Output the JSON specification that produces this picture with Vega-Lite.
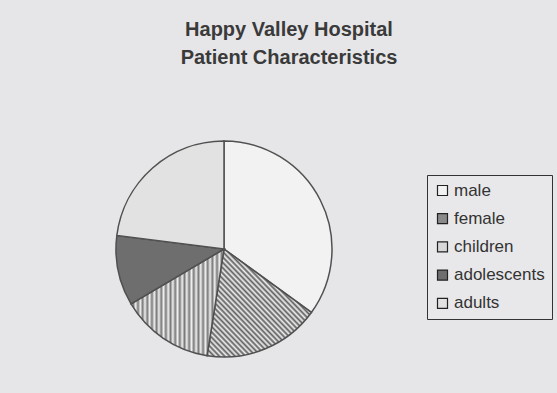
{
  "$schema": "https://vega.github.io/schema/vega-lite/v6.json",
  "autosize": {"type": "none"},
  "width": 216,
  "height": 216,
  "padding": {"left": 116, "top": 141, "right": 225, "bottom": 36},
  "background": "#e6e6e8",
  "title": {
    "text": ["Happy Valley Hospital", "Patient Characteristics"],
    "font": "Liberation Sans",
    "fontSize": 20,
    "fontWeight": "bold",
    "color": "#3a3a3a",
    "lineHeight": 28,
    "anchor": "middle",
    "frame": "group",
    "dx": 65,
    "offset": 70
  },
  "data": {
    "values": [
      {"category": "male", "value": 35, "order": 1},
      {"category": "female", "value": 17.5, "order": 2},
      {"category": "children", "value": 14, "order": 3},
      {"category": "adolescents", "value": 10.5, "order": 4},
      {"category": "adults", "value": 23, "order": 5}
    ]
  },
  "mark": {"type": "arc", "stroke": "#505050", "strokeWidth": 1.5},
  "encoding": {
    "theta": {"field": "value", "type": "quantitative", "stack": true},
    "order": {"field": "order", "type": "quantitative"},
    "fill": {
      "field": "category",
      "type": "nominal",
      "scale": {
        "domain": ["male", "female", "children", "adolescents", "adults"],
        "range": ["#f2f2f2", "#8a8a8a", "#d8d8d8", "#6e6e6e", "#e2e2e2"]
      },
      "legend": {
        "orient": "none",
        "legendX": 311,
        "legendY": 34,
        "title": null,
        "strokeColor": "#333333",
        "fillColor": "#e8e8ea",
        "padding": 7,
        "labelFontSize": 17,
        "labelFont": "Liberation Sans",
        "labelColor": "#333333",
        "symbolType": "square",
        "symbolSize": 100,
        "symbolStrokeColor": "#222222",
        "symbolStrokeWidth": 1.2,
        "rowPadding": 10.2,
        "labelOffset": 3
      },
      "condition": [
        {
          "test": "datum.category === 'female'",
          "value": {
            "gradient": "linear", "x1": 0, "y1": 1, "x2": 1, "y2": 0,
            "stops": [
              {"offset": 0, "color": "#f0f0f0"}, {"offset": 0.0125, "color": "#5e5e5e"},
              {"offset": 0.025, "color": "#f0f0f0"}, {"offset": 0.0375, "color": "#5e5e5e"},
              {"offset": 0.05, "color": "#f0f0f0"}, {"offset": 0.0625, "color": "#5e5e5e"},
              {"offset": 0.075, "color": "#f0f0f0"}, {"offset": 0.0875, "color": "#5e5e5e"},
              {"offset": 0.1, "color": "#f0f0f0"}, {"offset": 0.1125, "color": "#5e5e5e"},
              {"offset": 0.125, "color": "#f0f0f0"}, {"offset": 0.1375, "color": "#5e5e5e"},
              {"offset": 0.15, "color": "#f0f0f0"}, {"offset": 0.1625, "color": "#5e5e5e"},
              {"offset": 0.175, "color": "#f0f0f0"}, {"offset": 0.1875, "color": "#5e5e5e"},
              {"offset": 0.2, "color": "#f0f0f0"}, {"offset": 0.2125, "color": "#5e5e5e"},
              {"offset": 0.225, "color": "#f0f0f0"}, {"offset": 0.2375, "color": "#5e5e5e"},
              {"offset": 0.25, "color": "#f0f0f0"}, {"offset": 0.2625, "color": "#5e5e5e"},
              {"offset": 0.275, "color": "#f0f0f0"}, {"offset": 0.2875, "color": "#5e5e5e"},
              {"offset": 0.3, "color": "#f0f0f0"}, {"offset": 0.3125, "color": "#5e5e5e"},
              {"offset": 0.325, "color": "#f0f0f0"}, {"offset": 0.3375, "color": "#5e5e5e"},
              {"offset": 0.35, "color": "#f0f0f0"}, {"offset": 0.3625, "color": "#5e5e5e"},
              {"offset": 0.375, "color": "#f0f0f0"}, {"offset": 0.3875, "color": "#5e5e5e"},
              {"offset": 0.4, "color": "#f0f0f0"}, {"offset": 0.4125, "color": "#5e5e5e"},
              {"offset": 0.425, "color": "#f0f0f0"}, {"offset": 0.4375, "color": "#5e5e5e"},
              {"offset": 0.45, "color": "#f0f0f0"}, {"offset": 0.4625, "color": "#5e5e5e"},
              {"offset": 0.475, "color": "#f0f0f0"}, {"offset": 0.4875, "color": "#5e5e5e"},
              {"offset": 0.5, "color": "#f0f0f0"}, {"offset": 0.5125, "color": "#5e5e5e"},
              {"offset": 0.525, "color": "#f0f0f0"}, {"offset": 0.5375, "color": "#5e5e5e"},
              {"offset": 0.55, "color": "#f0f0f0"}, {"offset": 0.5625, "color": "#5e5e5e"},
              {"offset": 0.575, "color": "#f0f0f0"}, {"offset": 0.5875, "color": "#5e5e5e"},
              {"offset": 0.6, "color": "#f0f0f0"}, {"offset": 0.6125, "color": "#5e5e5e"},
              {"offset": 0.625, "color": "#f0f0f0"}, {"offset": 0.6375, "color": "#5e5e5e"},
              {"offset": 0.65, "color": "#f0f0f0"}, {"offset": 0.6625, "color": "#5e5e5e"},
              {"offset": 0.675, "color": "#f0f0f0"}, {"offset": 0.6875, "color": "#5e5e5e"},
              {"offset": 0.7, "color": "#f0f0f0"}, {"offset": 0.7125, "color": "#5e5e5e"},
              {"offset": 0.725, "color": "#f0f0f0"}, {"offset": 0.7375, "color": "#5e5e5e"},
              {"offset": 0.75, "color": "#f0f0f0"}, {"offset": 0.7625, "color": "#5e5e5e"},
              {"offset": 0.775, "color": "#f0f0f0"}, {"offset": 0.7875, "color": "#5e5e5e"},
              {"offset": 0.8, "color": "#f0f0f0"}, {"offset": 0.8125, "color": "#5e5e5e"},
              {"offset": 0.825, "color": "#f0f0f0"}, {"offset": 0.8375, "color": "#5e5e5e"},
              {"offset": 0.85, "color": "#f0f0f0"}, {"offset": 0.8625, "color": "#5e5e5e"},
              {"offset": 0.875, "color": "#f0f0f0"}, {"offset": 0.8875, "color": "#5e5e5e"},
              {"offset": 0.9, "color": "#f0f0f0"}, {"offset": 0.9125, "color": "#5e5e5e"},
              {"offset": 0.925, "color": "#f0f0f0"}, {"offset": 0.9375, "color": "#5e5e5e"},
              {"offset": 0.95, "color": "#f0f0f0"}, {"offset": 0.9625, "color": "#5e5e5e"},
              {"offset": 0.975, "color": "#f0f0f0"}, {"offset": 0.9875, "color": "#5e5e5e"},
              {"offset": 1, "color": "#f0f0f0"}
            ]
          }
        },
        {
          "test": "datum.category === 'children'",
          "value": {
            "gradient": "linear", "x1": 0, "y1": 0, "x2": 1, "y2": 0,
            "stops": [
              {"offset": 0, "color": "#f0f0f0"}, {"offset": 0.025, "color": "#7a7a7a"},
              {"offset": 0.05, "color": "#f0f0f0"}, {"offset": 0.075, "color": "#7a7a7a"},
              {"offset": 0.1, "color": "#f0f0f0"}, {"offset": 0.125, "color": "#7a7a7a"},
              {"offset": 0.15, "color": "#f0f0f0"}, {"offset": 0.175, "color": "#7a7a7a"},
              {"offset": 0.2, "color": "#f0f0f0"}, {"offset": 0.225, "color": "#7a7a7a"},
              {"offset": 0.25, "color": "#f0f0f0"}, {"offset": 0.275, "color": "#7a7a7a"},
              {"offset": 0.3, "color": "#f0f0f0"}, {"offset": 0.325, "color": "#7a7a7a"},
              {"offset": 0.35, "color": "#f0f0f0"}, {"offset": 0.375, "color": "#7a7a7a"},
              {"offset": 0.4, "color": "#f0f0f0"}, {"offset": 0.425, "color": "#7a7a7a"},
              {"offset": 0.45, "color": "#f0f0f0"}, {"offset": 0.475, "color": "#7a7a7a"},
              {"offset": 0.5, "color": "#f0f0f0"}, {"offset": 0.525, "color": "#7a7a7a"},
              {"offset": 0.55, "color": "#f0f0f0"}, {"offset": 0.575, "color": "#7a7a7a"},
              {"offset": 0.6, "color": "#f0f0f0"}, {"offset": 0.625, "color": "#7a7a7a"},
              {"offset": 0.65, "color": "#f0f0f0"}, {"offset": 0.675, "color": "#7a7a7a"},
              {"offset": 0.7, "color": "#f0f0f0"}, {"offset": 0.725, "color": "#7a7a7a"},
              {"offset": 0.75, "color": "#f0f0f0"}, {"offset": 0.775, "color": "#7a7a7a"},
              {"offset": 0.8, "color": "#f0f0f0"}, {"offset": 0.825, "color": "#7a7a7a"},
              {"offset": 0.85, "color": "#f0f0f0"}, {"offset": 0.875, "color": "#7a7a7a"},
              {"offset": 0.9, "color": "#f0f0f0"}, {"offset": 0.925, "color": "#7a7a7a"},
              {"offset": 0.95, "color": "#f0f0f0"}, {"offset": 0.975, "color": "#7a7a7a"},
              {"offset": 1, "color": "#f0f0f0"}
            ]
          }
        }
      ]
    }
  },
  "config": {"view": {"stroke": null}}
}
